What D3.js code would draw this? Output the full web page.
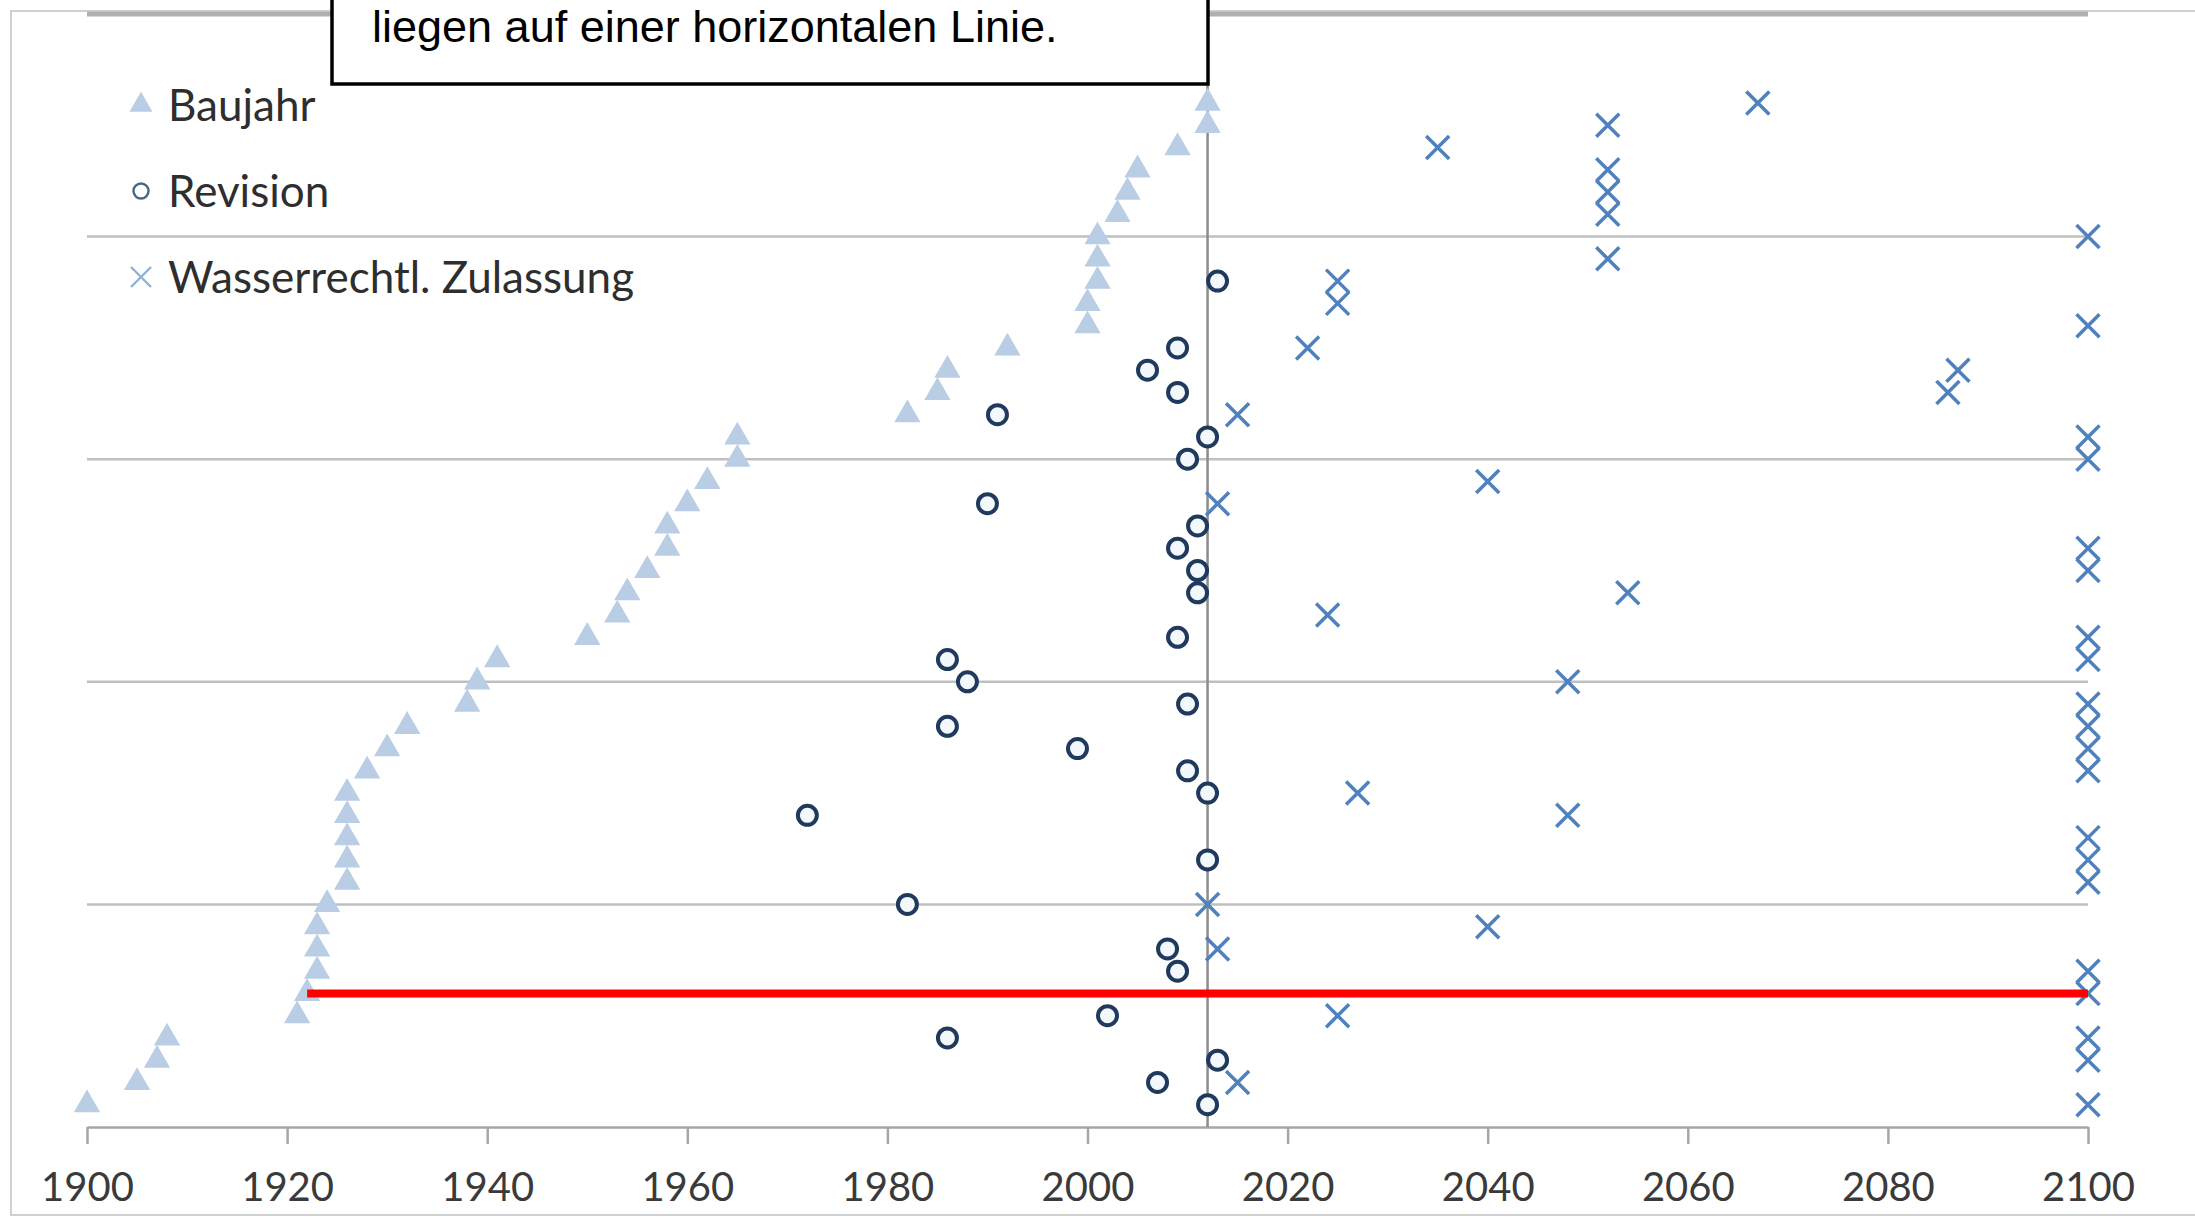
<!DOCTYPE html>
<html>
<head>
<meta charset="utf-8">
<script src="https://cdnjs.cloudflare.com/ajax/libs/d3/7.8.5/d3.min.js"></script>
<style>
  body { margin: 0; background: #fff; }
  svg { display: block; }
</style>
</head>
<body>
<div class="chart"></div>
<script>
// one entry per plant, from bottom (1) to top (46)
var baujahr = [1900, 1905, 1907, 1908, 1921, 1922, 1923, 1923, 1923, 1924,
    1926, 1926, 1926, 1926, 1926, 1928, 1930, 1932, 1938, 1939,
    1941, 1950, 1953, 1954, 1956, 1958, 1958, 1960, 1962, 1965,
    1965, 1982, 1985, 1986, 1992, 2000, 2000, 2001, 2001, 2001,
    2003, 2004, 2005, 2009, 2012, 2012];

var revision = [2012, 2007, 2013, 1986, 2002, null, 2009, 2008, null, 1982,
    null, 2012, null, 1972, 2012, 2010, 1999, 1986, 2010, 1988,
    1986, 2009, null, 2011, 2011, 2009, 2011, 1990, null, 2010,
    2012, 1991, 2009, 2006, 2009, null, null, 2013, null, null,
    null, null, null, null, null, null];

var zulassung = [2100, 2015, 2100, 2100, 2025, 2100, 2100, 2013, 2040, 2012,
    2100, 2100, 2100, 2048, 2027, 2100, 2100, 2100, 2100, 2048,
    2100, 2100, 2024, 2054, 2100, 2100, null, 2013, 2040, 2100,
    2100, 2015, 2086, 2087, 2022, 2100, 2025, 2025, 2052, 2100,
    2052, 2052, 2052, 2035, 2052, 2067];

var xTicks = [1900, 1920, 1940, 1960, 1980, 2000, 2020, 2040, 2060, 2080, 2100];
var yGrid = [10, 20, 30, 40, 50];
var legendLabels = ["Baujahr", "Revision", "Wasserrechtl. Zulassung"];
var heute = 2012;
var markiert = 6;
var hinweis = "liegen auf einer horizontalen Linie.";

var triColor = "#b9cde5",
    circColor = "#1f3a5c",
    crossColor = "#4f81bd",
    gridColor = "#bfbfbf";

var margin = {top: 14, right: 107, bottom: 93, left: 87},
    width = 2195 - margin.left - margin.right,
    height = 1220 - margin.top - margin.bottom;

var x = d3.scaleLinear().domain([1900, 2100]).range([0, width]);
var y = d3.scaleLinear().domain([0, 50]).range([height, 0]);

function toPoints(arr) {
    return arr.map(function (v, i) { return {n: i + 1, year: v}; })
        .filter(function (d) { return d.year != null; });
}

var root = d3.select("div.chart").append("svg")
    .attr("width", 2195)
    .attr("height", 1220);

// chart area frame
root.append("rect")
    .attr("x", 11).attr("y", 11)
    .attr("width", 2200).attr("height", 1204)
    .attr("fill", "none")
    .attr("stroke", "#d0d0d0")
    .attr("stroke-width", 2);

var svg = root.append("g")
    .attr("transform", "translate(" + margin.left + "," + margin.top + ")");

// horizontal gridlines
svg.selectAll("line.grid")
    .data(yGrid)
    .enter().append("line")
    .attr("class", "grid")
    .attr("x1", 0).attr("x2", width)
    .attr("y1", function (d) { return y(d); })
    .attr("y2", function (d) { return y(d); })
    .attr("stroke", function (d) { return d === 50 ? "#b0b0b0" : gridColor; })
    .attr("stroke-width", function (d) { return d === 50 ? 5 : 2.5; });

// x axis
var xAxis = d3.axisBottom(x)
    .tickValues(xTicks)
    .tickFormat(d3.format("d"))
    .tickSize(17)
    .tickSizeOuter(0);

var gx = svg.append("g")
    .attr("transform", "translate(0," + height + ")")
    .call(xAxis);
gx.select(".domain").attr("stroke", "#a6a6a6").attr("stroke-width", 2.5);
gx.selectAll(".tick line").attr("stroke", "#a6a6a6").attr("stroke-width", 2.5);
gx.selectAll(".tick text")
    .attr("y", 60)
    .attr("dy", "0.36em")
    .attr("fill", "#3a3a3a")
    .style("font-family", "Lato, 'Open Sans', sans-serif")
    .style("font-size", "40px");

// reference line for the current year
svg.append("line")
    .attr("x1", x(heute)).attr("x2", x(heute))
    .attr("y1", y(0)).attr("y2", y(50))
    .attr("stroke", "#8c8c8c")
    .attr("stroke-width", 2.5);

// Baujahr
var tri = d3.symbol().type(d3.symbolTriangle).size(300);
svg.selectAll("path.bau")
    .data(toPoints(baujahr))
    .enter().append("path")
    .attr("class", "bau")
    .attr("d", tri)
    .attr("transform", function (d) { return "translate(" + x(d.year) + "," + y(d.n) + ")"; })
    .attr("fill", triColor);

// Revision
svg.selectAll("circle.rev")
    .data(toPoints(revision))
    .enter().append("circle")
    .attr("class", "rev")
    .attr("cx", function (d) { return x(d.year); })
    .attr("cy", function (d) { return y(d.n); })
    .attr("r", 9.5)
    .attr("fill", "#f3f8fc")
    .attr("stroke", circColor)
    .attr("stroke-width", 4);

// Wasserrechtliche Zulassung
function crossPath(s) {
    return "M" + (-s) + "," + (-s) + "L" + s + "," + s + "M" + (-s) + "," + s + "L" + s + "," + (-s);
}
svg.selectAll("path.zul")
    .data(toPoints(zulassung))
    .enter().append("path")
    .attr("class", "zul")
    .attr("d", crossPath(11.5))
    .attr("transform", function (d) { return "translate(" + x(d.year) + "," + y(d.n) + ")"; })
    .attr("fill", "none")
    .attr("stroke", crossColor)
    .attr("stroke-width", 3.5);

// red marker line for one plant
svg.append("line")
    .attr("x1", x(baujahr[markiert - 1]))
    .attr("x2", x(zulassung[markiert - 1]))
    .attr("y1", y(markiert))
    .attr("y2", y(markiert))
    .attr("stroke", "#ff0000")
    .attr("stroke-width", 8);

// legend
var legend = root.append("g")
    .attr("transform", "translate(141,105)");

legendLabels.forEach(function (label, i) {
    var row = legend.append("g").attr("transform", "translate(0," + (i * 86) + ")");
    if (i === 0) {
        row.append("path").attr("d", d3.symbol().type(d3.symbolTriangle).size(230))
            .attr("fill", triColor);
    } else if (i === 1) {
        row.append("circle").attr("r", 7.5)
            .attr("fill", "none").attr("stroke", "#4a6785").attr("stroke-width", 2.4);
    } else {
        row.append("path").attr("d", crossPath(10))
            .attr("fill", "none").attr("stroke", "#8fb1d9").attr("stroke-width", 2.4);
    }
    row.append("text")
        .attr("x", 27)
        .attr("dy", "0.36em")
        .attr("fill", "#2e2e2e")
        .style("font-family", "Lato, 'Open Sans', sans-serif")
        .style("font-size", "44px")
        .text(label);
});

// callout box (cut off at the top of the picture)
root.append("rect")
    .attr("x", 332).attr("y", -30)
    .attr("width", 876).attr("height", 114)
    .attr("fill", "#fff")
    .attr("stroke", "#000")
    .attr("stroke-width", 3.5);

root.append("text")
    .attr("x", 372).attr("y", 42)
    .attr("fill", "#000")
    .style("font-family", "'Liberation Sans', Arial, sans-serif")
    .style("font-size", "45px")
    .text(hinweis);
</script>
</body>
</html>
